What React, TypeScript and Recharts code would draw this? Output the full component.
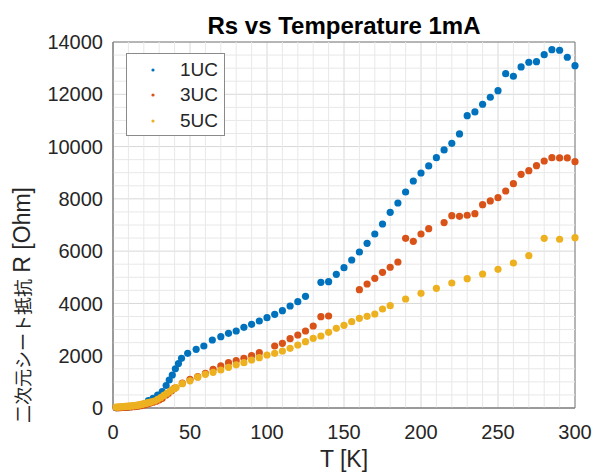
import { CartesianGrid, ReferenceArea, ReferenceLine, Scatter, ScatterChart, XAxis, YAxis } from "recharts";

// 1UC
const temp1 = [2, 3, 4, 5, 6, 7, 8, 9, 10, 11, 12, 13, 14, 15, 16, 17, 18, 19, 20, 23, 26, 29, 32, 34.5, 36.5, 38.5, 40.5, 42.5, 44.5, 48.5, 54, 59, 64.5, 70, 75, 80, 85, 90, 95, 100, 105, 110, 115, 120, 125, 135, 140, 145, 150, 155, 160, 165, 170, 175, 180, 185, 190, 195, 200, 205, 210, 215, 220, 225, 230, 235, 240, 245, 250, 255, 260, 265, 270, 275, 280, 285, 290, 295, 300];
const rs1 = [10, 15, 20, 20, 25, 30, 35, 40, 45, 50, 55, 60, 70, 80, 90, 100, 115, 130, 150, 280, 370, 497, 624, 860, 1071, 1262, 1500, 1700, 1900, 2092, 2244, 2372, 2601, 2729, 2857, 2946, 3087, 3202, 3328, 3455, 3583, 3723, 3902, 4067, 4273, 4809, 4832, 5115, 5368, 5662, 5968, 6300, 6656, 7039, 7486, 7842, 8263, 8684, 8990, 9258, 9577, 9870, 10126, 10482, 11183, 11324, 11618, 11886, 12139, 12790, 12690, 13045, 13225, 13248, 13516, 13707, 13684, 13417, 13095];

// 3UC
const temp3 = [2, 3, 4, 5, 6, 7, 8, 9, 10, 12, 14, 16, 18, 20, 22, 24, 26, 28, 30, 32, 34.5, 36, 38, 40, 45, 50, 55, 60, 65, 70, 75, 80, 85, 90, 95, 105, 110, 115, 120, 125, 130, 135, 140, 160, 165, 170, 175, 180, 185, 190, 195, 200, 205, 215, 220, 225, 230, 235, 240, 245, 250, 255, 260, 265, 270, 275, 280, 285, 290, 295, 300];
const rs3 = [10, 12, 15, 18, 20, 25, 28, 30, 35, 45, 55, 70, 90, 110, 140, 180, 220, 260, 310, 370, 497, 562, 662, 760, 950, 1100, 1200, 1330, 1480, 1610, 1734, 1810, 1900, 2002, 2117, 2372, 2474, 2652, 2793, 2946, 3137, 3493, 3520, 4526, 4744, 4962, 5191, 5383, 5585, 6490, 6377, 6656, 6860, 7091, 7357, 7333, 7372, 7434, 7777, 7919, 8045, 8301, 8581, 8940, 9078, 9270, 9449, 9577, 9564, 9564, 9424];

// 5UC
const temp5 = [2, 3, 4, 5, 6, 7, 8, 9, 10, 11, 12, 13, 14, 15, 16, 17, 18, 19, 20, 21, 22, 23, 24, 25, 27, 29, 31, 33, 35, 37, 39, 41, 45, 50, 55, 60, 65, 70, 75, 80, 85, 90, 95, 100, 105, 110, 115, 120, 125, 130, 135, 140, 145, 150, 155, 160, 165, 170, 175, 180, 190, 200, 210, 220, 230, 240, 250, 260, 270, 280, 290, 300];
const rs5 = [30, 35, 40, 45, 50, 55, 60, 65, 70, 75, 80, 85, 90, 100, 110, 120, 130, 145, 160, 175, 190, 205, 220, 235, 268, 330, 400, 480, 562, 640, 720, 780, 930, 1040, 1180, 1290, 1366, 1454, 1557, 1650, 1734, 1836, 1925, 2028, 2092, 2181, 2284, 2410, 2536, 2666, 2754, 2896, 3049, 3164, 3302, 3430, 3507, 3596, 3787, 3914, 4170, 4388, 4579, 4782, 4947, 5126, 5306, 5547, 5826, 6492, 6454, 6515];

const xTicks = [0, 50, 100, 150, 200, 250, 300];
const yTicks = [0, 2000, 4000, 6000, 8000, 10000, 12000, 14000];
// minor grid positions (between the major ticks)
const xMinor = [10, 20, 30, 40, 60, 70, 80, 90, 110, 120, 130, 140, 160, 170, 180, 190, 210, 220, 230, 240, 260, 270, 280, 290];
const yMinor = [500, 1000, 1500, 2500, 3000, 3500, 4500, 5000, 5500, 6500, 7000, 7500, 8500, 9000, 9500, 10500, 11000, 11500, 12500, 13000, 13500];

const font = "'Liberation Sans', Arial, Helvetica, sans-serif";
const ink = "#262626";

const series = [
	{ name: "1UC", color: "#0072BD", data: temp1.map((t, i) => ({ t, r: rs1[i] })) },
	{ name: "3UC", color: "#D95319", data: temp3.map((t, i) => ({ t, r: rs3[i] })) },
	{ name: "5UC", color: "#EDB120", data: temp5.map((t, i) => ({ t, r: rs5[i] })) },
];

const dot = (color: string) => (props: any) => <circle cx={props.cx} cy={props.cy} r={3.6} fill={color} />;

function LegendBox() {
	return (
		<div
			style={{
				position: "absolute",
				left: 126,
				top: 53,
				width: 99,
				height: 83,
				border: "1px solid #8a8a8a",
				background: "#fff",
				fontFamily: font,
				fontSize: 19,
				color: ink,
				paddingTop: 3,
				boxSizing: "border-box",
			}}
		>
			{series.map((s) => (
				<div key={s.name} style={{ display: "flex", alignItems: "center", height: 25.5 }}>
					<svg width={53} height={10}>
						<circle cx={26} cy={5} r={1.6} fill={s.color} />
					</svg>
					<span>{s.name}</span>
				</div>
			))}
		</div>
	);
}

export default function App() {
	const tickStyle = { fontSize: 20, fill: ink, fontFamily: font };
	return (
		<div style={{ position: "absolute", left: 0, top: 0, width: 594, height: 472, background: "#fff", fontFamily: font }}>
			<ScatterChart width={594} height={472} margin={{ top: 42, right: 19, left: 0, bottom: 0 }}>
				<CartesianGrid stroke="#d8d8d8" strokeWidth={1} />
				<XAxis
					dataKey="t"
					type="number"
					domain={[0, 300]}
					ticks={xTicks}
					height={64}
					tick={tickStyle}
					tickLine={false}
					tickSize={6}
					tickMargin={11}
					axisLine={{ stroke: "#808080" }}
					label={{ value: "T [K]", position: "insideBottom", offset: 5, style: { fontSize: 23, fill: ink, fontFamily: font } }}
				/>
				<YAxis
					dataKey="r"
					type="number"
					domain={[0, 14000]}
					ticks={yTicks}
					width={113}
					tick={tickStyle}
					tickLine={false}
					tickSize={6}
					tickMargin={4}
					axisLine={{ stroke: "#808080" }}
				/>
				{xMinor.map((v) => (
					<ReferenceLine key={`x${v}`} x={v} stroke="#e8e8e8" strokeWidth={1} />
				))}
				{yMinor.map((v) => (
					<ReferenceLine key={`y${v}`} y={v} stroke="#e8e8e8" strokeWidth={1} />
				))}
				<ReferenceArea x1={0} x2={300} y1={0} y2={14000} fill="none" stroke="#808080" strokeWidth={1} />
				{series.map((s) => (
					<Scatter
						key={s.name}
						name={s.name}
						data={s.data}
						fill={s.color}
						shape={dot(s.color)}
						isAnimationActive={false}
					/>
				))}
			</ScatterChart>
			<div
				style={{
					position: "absolute",
					left: 113,
					width: 462,
					top: 12,
					textAlign: "center",
					fontSize: 24,
					fontWeight: "bold",
					color: "#000",
				}}
			>
				Rs vs Temperature 1mA
			</div>
			<div
				style={{
					position: "absolute",
					left: -128,
					top: 290,
					width: 300,
					height: 30,
					lineHeight: "30px",
					textAlign: "center",
					transform: "rotate(-90deg)",
					color: ink,
					whiteSpace: "nowrap",
				}}
			>
				<span style={{ fontFamily: "'Noto Sans CJK JP', sans-serif", fontSize: 18 }}>二次元シート抵抗</span>
				<span style={{ fontSize: 23 }}> R [Ohm]</span>
			</div>
			<LegendBox />
		</div>
	);
}
